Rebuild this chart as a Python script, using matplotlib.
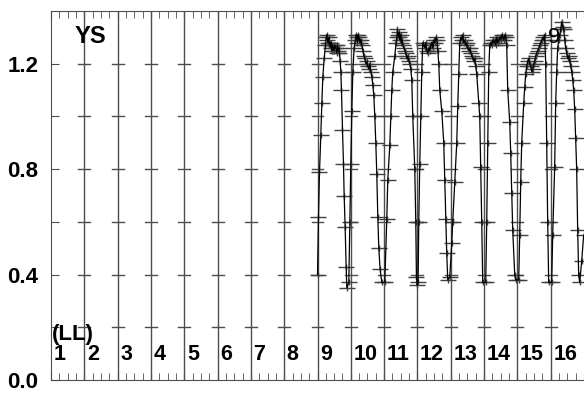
import numpy as np
import matplotlib.pyplot as plt
from matplotlib.path import Path

# light curve samples: x in night units (night k spans k-1..k), y = relative flux
t = [8.00, 8.03, 8.06, 8.10, 8.13, 8.16, 8.20, 8.24, 8.26, 8.28, 8.30, 8.32, 8.34, 8.36,
     8.38, 8.40, 8.42, 8.44, 8.46, 8.48, 8.50, 8.52, 8.55, 8.58, 8.60, 8.62, 8.64, 8.66,
     8.68, 8.70, 8.72, 8.75, 8.78, 8.80, 8.83, 8.86, 8.88,
     8.94, 8.97, 9.00, 9.03, 9.06, 9.10, 9.14, 9.16, 9.18, 9.20, 9.22, 9.24, 9.26, 9.28,
     9.30, 9.33, 9.36, 9.39, 9.42, 9.45, 9.48, 9.51, 9.54, 9.57, 9.60, 9.63, 9.66, 9.69,
     9.72, 9.75, 9.78, 9.81, 9.84, 9.88, 9.93,
     10.02, 10.08, 10.11, 10.17, 10.20, 10.23, 10.26, 10.32, 10.36, 10.38, 10.40, 10.42,
     10.44, 10.46, 10.48, 10.50, 10.52, 10.54, 10.56, 10.59, 10.62, 10.65, 10.68, 10.71,
     10.74, 10.77, 10.80, 10.83, 10.86, 10.92, 10.95, 10.97, 10.99,
     11.02, 11.04, 11.07, 11.10, 11.13, 11.16, 11.19, 11.22, 11.25, 11.28, 11.31, 11.34,
     11.37, 11.40, 11.43, 11.46, 11.49, 11.52, 11.55, 11.58, 11.61, 11.64, 11.67, 11.73,
     11.79, 11.82, 11.85, 11.88, 11.91,
     11.97, 12.03, 12.06, 12.12, 12.18, 12.21, 12.24, 12.27, 12.30, 12.33, 12.36, 12.39,
     12.42, 12.45, 12.48, 12.51, 12.54, 12.57, 12.60, 12.63, 12.66, 12.69, 12.72, 12.75,
     12.78, 12.84, 12.87, 12.90, 12.93, 12.96,
     13.05, 13.08, 13.11, 13.14, 13.17, 13.20, 13.23, 13.26, 13.29, 13.32, 13.35, 13.38,
     13.41, 13.44, 13.47, 13.50, 13.53, 13.56, 13.59, 13.62, 13.65, 13.68, 13.71, 13.77,
     13.80, 13.83, 13.86, 13.92, 13.95,
     14.04, 14.07, 14.10, 14.13, 14.19, 14.22, 14.25, 14.28, 14.31, 14.34, 14.37, 14.40,
     14.43, 14.46, 14.49, 14.52, 14.55, 14.58, 14.61, 14.64, 14.67, 14.70, 14.73, 14.76,
     14.79, 14.82, 14.85, 14.88, 14.91, 14.94,
     15.03, 15.06, 15.12, 15.15, 15.18, 15.21, 15.24, 15.27, 15.30, 15.33, 15.36, 15.39,
     15.42, 15.45, 15.48, 15.51, 15.54, 15.57, 15.60, 15.63, 15.66, 15.69, 15.72, 15.75,
     15.78, 15.81, 15.84, 15.87, 15.93, 15.99]
flux = [0.40, 0.62, 0.79, 0.93, 1.05, 1.15, 1.22, 1.27, 1.30, 1.31, 1.29, 1.28, 1.30, 1.27,
        1.28, 1.26, 1.28, 1.25, 1.27, 1.26, 1.25, 1.27, 1.26, 1.24, 1.27, 1.25, 1.26, 1.24,
        1.21, 1.17, 1.10, 0.95, 0.82, 0.70, 0.58, 0.43, 0.35,
        0.37, 0.60, 0.82, 1.02, 1.17, 1.26, 1.29, 1.31, 1.30, 1.28, 1.31, 1.29, 1.30, 1.28,
        1.29, 1.27, 1.25, 1.23, 1.22, 1.20, 1.21, 1.19, 1.18, 1.20, 1.17, 1.15, 1.12, 1.08,
        1.00, 0.90, 0.78, 0.62, 0.50, 0.42, 0.37,
        0.37, 0.61, 0.76, 0.89, 1.00, 1.10, 1.17, 1.23, 1.28, 1.30, 1.33, 1.31, 1.30, 1.32,
        1.29, 1.31, 1.28, 1.29, 1.27, 1.26, 1.25, 1.24, 1.22, 1.23, 1.21, 1.20, 1.18, 1.14,
        1.00, 0.80, 0.60, 0.39, 0.36,
        0.37, 0.60, 0.82, 1.00, 1.17, 1.28, 1.27, 1.26, 1.28, 1.25, 1.24, 1.26, 1.25, 1.27,
        1.28, 1.26, 1.29, 1.28, 1.30, 1.29, 1.25, 1.20, 1.10, 1.02, 0.90, 0.76, 0.61, 0.48,
        0.38,
        0.39, 0.52, 0.60, 0.75, 0.90, 1.04, 1.16, 1.28, 1.30, 1.29, 1.31, 1.28, 1.29, 1.27,
        1.28, 1.26, 1.25, 1.26, 1.24, 1.23, 1.22, 1.21, 1.22, 1.19, 1.16, 1.05, 1.00, 0.81,
        0.60, 0.37,
        0.37, 0.60, 0.90, 1.17, 1.27, 1.28, 1.27, 1.29, 1.28, 1.29, 1.27, 1.30, 1.28, 1.29,
        1.30, 1.29, 1.31, 1.30, 1.29, 1.31, 1.30, 1.27, 1.10, 0.98, 0.86, 0.71, 0.57, 0.40,
        0.38,
        0.38, 0.55, 0.75, 0.90, 1.05, 1.11, 1.16, 1.19, 1.21, 1.22, 1.20, 1.19, 1.17, 1.18,
        1.20, 1.21, 1.23, 1.24, 1.25, 1.26, 1.27, 1.28, 1.29, 1.30, 1.29, 1.31, 1.20, 0.90,
        0.60, 0.37,
        0.37, 0.55, 0.81, 1.05, 1.17, 1.26, 1.29, 1.31, 1.33, 1.36, 1.34, 1.33, 1.29, 1.26,
        1.24, 1.22, 1.23, 1.21, 1.19, 1.17, 1.14, 1.10, 1.03, 0.92, 0.80, 0.57, 0.40, 0.37,
        0.45, 0.55]

nights = list(range(1, 17))
night_labels = [str(n) for n in nights]
ytick_vals = [0.2, 0.4, 0.6, 0.8, 1.0, 1.2]
ylabel_vals = [0.0, 0.4, 0.8, 1.2]

plt.rcParams['font.family'] = ['Liberation Sans', 'DejaVu Sans']

fig = plt.figure(figsize=(5.84, 3.93), dpi=100)
ax = fig.add_axes([51 / 584, 13 / 393, 1 - 51 / 584, 369 / 393])
ax.set_xlim(0, 16)
ax.set_ylim(0, 1.4)

# separators between nights, each with its own small y ticks
for k in range(1, 16):
    ax.axvline(k, color='0.3', lw=1.0, zorder=1)
    for yv in ytick_vals:
        ax.plot([k - 0.18, k + 0.18], [yv, yv], color='0.3', lw=1.0, zorder=1)

# horizontally stretched plus marker
plus = Path([(-1, 0), (1, 0), (0, -0.45), (0, 0.45)],
            [Path.MOVETO, Path.LINETO, Path.MOVETO, Path.LINETO])
ax.plot(t, flux, color='black', lw=0.9, zorder=3)
ax.plot(t, flux, ls='none', marker=plus, ms=11, mec='0.25', mew=1.0, zorder=2)

ax.spines['right'].set_visible(False)
for s in ['left', 'top', 'bottom']:
    ax.spines[s].set_color('0.3')
ax.set_yticks(ytick_vals + [0.0])
ax.set_yticklabels(['' if v not in ylabel_vals else f'{v:.1f}' for v in ytick_vals + [0.0]],
                   fontsize=16, fontweight='bold')
ax.tick_params(axis='y', direction='in', length=6, color='0.3', pad=9)
ax.set_xticks(range(0, 17))
ax.set_xticks(np.arange(0, 16, 0.25), minor=True)
ax.set_xticklabels([])
ax.tick_params(axis='x', which='both', direction='in', top=True, length=5, color='0.3')

for k, lab in zip(nights, night_labels):
    ax.text(k - 1 + 0.08, 0.075, lab, fontsize=15.5, fontweight='bold', ha='left', va='baseline')
ax.text(0.02, 0.15, '(LL)', fontsize=16, fontweight='bold', ha='left', va='baseline')
ax.text(0.72, 1.28, 'YS', fontsize=17, fontweight='bold', ha='left', va='baseline')
ax.text(14.91, 1.28, '9', fontsize=16, ha='left', va='baseline', zorder=4)

fig.savefig('out.png', dpi=100)
